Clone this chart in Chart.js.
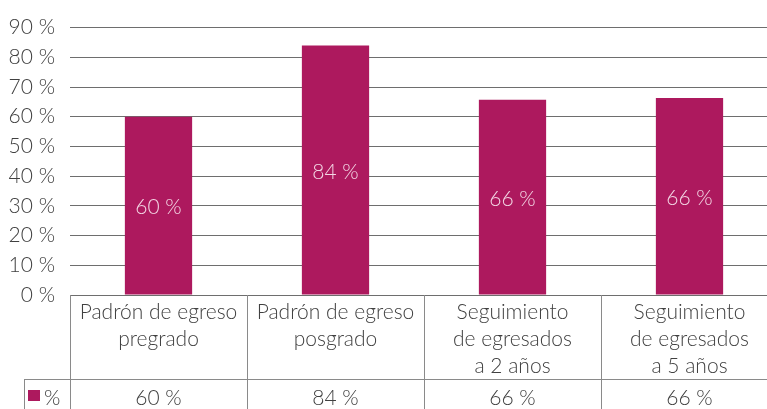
<!DOCTYPE html>
<html>
<head>
<meta charset="utf-8">
<script src="https://cdn.jsdelivr.net/npm/chart.js@4.4.1/dist/chart.umd.min.js"></script>
<style>
    html, body { margin: 0; padding: 0; background: #fff; overflow: hidden; }
    #wrap { width: 778px; height: 409px; }
</style>
</head>
<body>
<div id="wrap"><canvas id="egresados"></canvas></div>
<script>
// datos
const categorias = [
    ["Padrón de egreso", "pregrado"],
    ["Padrón de egreso", "posgrado"],
    ["Seguimiento", "de egresados", "a 2 años"],
    ["Seguimiento", "de egresados", "a 5 años"]
];
const serieNombre = "%";
const porcentajes = [60, 84, 65.7, 66.3];
const ticksY = [0, 10, 20, 30, 40, 50, 60, 70, 80, 90];

const colorBarra = "#ad195e";
const colorTexto = "#404040";
const colorLinea = "#8a8a8a";
const fuente = { family: "Lato", weight: "300", size: 21 };

function pct(v) {
    return Math.round(v) + " %";
}

// etiquetas dentro de las barras
const etiquetasBarras = {
    id: "etiquetasBarras",
    afterDatasetsDraw(chart) {
        const ctx = chart.ctx;
        const meta = chart.getDatasetMeta(0);
        ctx.save();
        ctx.font = "300 21px Lato";
        ctx.fillStyle = "#f3d6e4";
        ctx.textAlign = "center";
        ctx.textBaseline = "middle";
        meta.data.forEach((bar, i) => {
            ctx.fillText(pct(porcentajes[i]), bar.x, (bar.y + bar.base) / 2 + 2);
        });
        ctx.restore();
    }
};

// tabla de datos bajo el eje
const tablaDatos = {
    id: "tablaDatos",
    afterDraw(chart) {
        const ctx = chart.ctx;
        const x = chart.scales.x;
        const area = chart.chartArea;
        const ancho = (area.right - area.left) / categorias.length;
        const filaY = 379.5;
        const bottom = chart.height;
        ctx.save();
        ctx.strokeStyle = colorLinea;
        ctx.lineWidth = 1;
        ctx.beginPath();
        for (let i = 0; i <= categorias.length; i++) {
            const px = Math.round(area.left + i * ancho) + 0.5;
            ctx.moveTo(px, area.bottom);
            ctx.lineTo(px, bottom);
        }
        ctx.moveTo(24, filaY);
        ctx.lineTo(area.right, filaY);
        ctx.moveTo(24.5, filaY);
        ctx.lineTo(24.5, bottom);
        ctx.stroke();

        // leyenda
        ctx.fillStyle = colorBarra;
        ctx.fillRect(28, 390, 12, 11);
        ctx.font = "300 21px Lato";
        ctx.fillStyle = colorTexto;
        ctx.textAlign = "left";
        ctx.textBaseline = "middle";
        ctx.fillText(serieNombre, 44, 398);

        ctx.textAlign = "center";
        porcentajes.forEach((v, i) => {
            ctx.fillText(pct(v), x.getPixelForValue(i), 398);
        });
        ctx.restore();
    }
};

new Chart(document.getElementById("egresados"), {
    type: "bar",
    data: {
        labels: categorias,
        datasets: [{
            label: serieNombre,
            data: porcentajes,
            backgroundColor: colorBarra,
            categoryPercentage: 1,
            barPercentage: 0.38
        }]
    },
    options: {
        responsive: true,
        maintainAspectRatio: false,
        animation: false,
        layout: { padding: { top: 25, right: 0, bottom: 0, left: 0 } },
        plugins: {
            legend: { display: false },
            tooltip: { enabled: false }
        },
        scales: {
            x: {
                grid: { display: false, drawTicks: false },
                border: { display: false },
                ticks: {
                    color: colorTexto,
                    font: { family: "Lato", weight: "300", size: 21, lineHeight: 1.29 },
                    padding: 4,
                    maxRotation: 0,
                    autoSkip: false
                },
                afterFit(scale) {
                    scale.height = 114;
                }
            },
            y: {
                min: 0,
                max: 90,
                afterBuildTicks(scale) {
                    scale.ticks = ticksY.map(v => ({ value: v }));
                },
                grid: { color: "#6e6e6e", drawTicks: false },
                border: { display: false },
                ticks: {
                    color: colorTexto,
                    font: fuente,
                    padding: 15,
                    callback: v => v + " %"
                },
                afterFit(scale) {
                    scale.width = 70;
                }
            }
        }
    },
    plugins: [etiquetasBarras, tablaDatos]
});
</script>
</body>
</html>
